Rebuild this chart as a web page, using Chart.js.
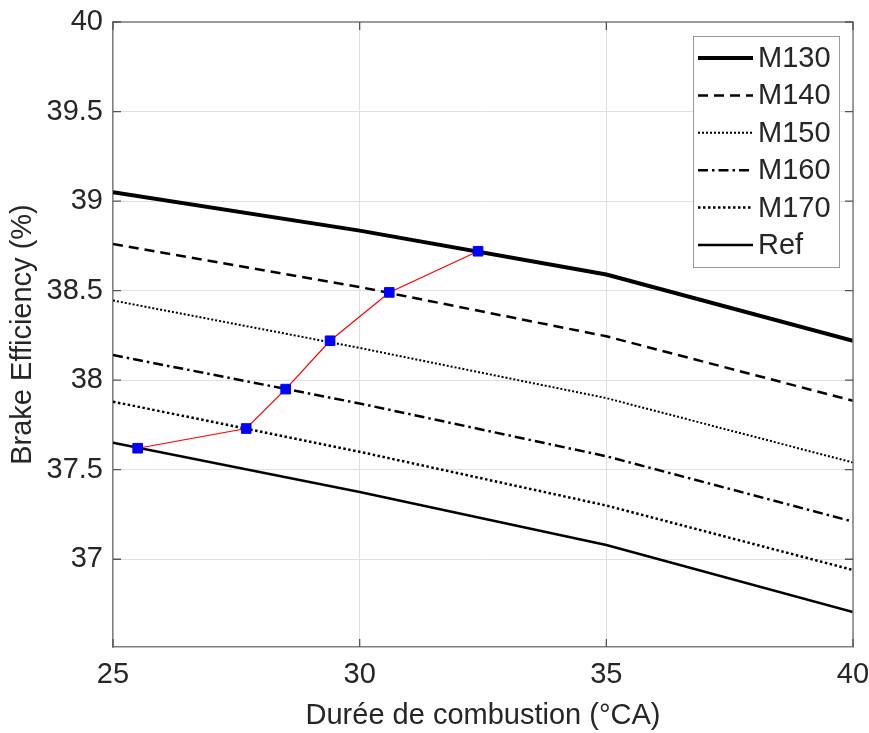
<!DOCTYPE html>
<html>
<head>
<meta charset="utf-8">
<script src="https://cdn.jsdelivr.net/npm/chart.js@4.4.1/dist/chart.umd.min.js"></script>
<style>
html, body { margin: 0; padding: 0; background: #fff; }
#wrap { width: 869px; height: 733px; }
</style>
</head>
<body>
<div id="wrap"><canvas id="c" width="869" height="733"></canvas></div>
<script>
// durée de combustion (°CA) aux points de calcul
const durees = [25, 30, 35, 40];
// rendement effectif (%) pour chaque cas
const m130 = [39.05, 38.835, 38.59, 38.22];
const m140 = [38.76, 38.52, 38.245, 37.885];
const m150 = [38.445, 38.18, 37.90, 37.54];
const m160 = [38.14, 37.87, 37.575, 37.21];
const m170 = [37.88, 37.60, 37.30, 36.94];
const ref = [37.65, 37.375, 37.08, 36.705];
const noms = ['M130', 'M140', 'M150', 'M160', 'M170', 'Ref'];

// points d'iso-rendement (ligne rouge)
const optX = [25.5, 27.7, 28.5, 29.4, 30.6, 32.4];
const optY = [37.62, 37.73, 37.95, 38.22, 38.49, 38.72];

const FONT = '"Liberation Sans", Arial, sans-serif';
const TXT = '#262626';

const styles = [
    { w: 4, dash: [] },
    { w: 2.5, dash: [10, 6] },
    { w: 2, dash: [2, 2] },
    { w: 2.5, dash: [10, 4, 2.5, 4] },
    { w: 2.5, dash: [2.5, 2.5] },
    { w: 2.5, dash: [] },
];

const pts = (xs, ys) => xs.map((x, i) => ({ x, y: ys[i] }));

const datasets = [m130, m140, m150, m160, m170, ref].map((vals, i) => ({
    label: noms[i], data: pts(durees, vals), inLegend: true,
    borderColor: '#000', borderWidth: styles[i].w, borderDash: styles[i].dash,
    pointRadius: 0, tension: 0, fill: false, order: 1,
}));
datasets.push({
    label: 'opt', data: pts(optX, optY), inLegend: false,
    borderColor: '#ff0000', borderWidth: 1.2, tension: 0, fill: false, order: 0,
    pointStyle: 'rect', pointRadius: 6.8, pointBackgroundColor: '#0000ff', pointBorderColor: '#0000ff', pointBorderWidth: 1,
});

// boîte + graduations intérieures façon MATLAB
const boxTicks = {
    id: 'boxTicks',
    afterDatasetsDraw(chart) {
        const { ctx, chartArea: a, scales: { x, y } } = chart;
        ctx.save();
        ctx.strokeStyle = '#808080'; ctx.lineWidth = 1.5;
        ctx.beginPath();
        ctx.moveTo(a.left, a.top); ctx.lineTo(a.right, a.top); ctx.lineTo(a.right, a.bottom);
        ctx.stroke();
        ctx.strokeStyle = '#555'; ctx.lineWidth = 1.3;
        ctx.beginPath();
        x.ticks.forEach(t => {
            const px = x.getPixelForValue(t.value);
            ctx.moveTo(px, a.bottom); ctx.lineTo(px, a.bottom - 8);
            ctx.moveTo(px, a.top); ctx.lineTo(px, a.top + 8);
        });
        y.ticks.forEach(t => {
            const py = y.getPixelForValue(t.value);
            ctx.moveTo(a.left, py); ctx.lineTo(a.left + 8, py);
            ctx.moveTo(a.right, py); ctx.lineTo(a.right - 8, py);
        });
        ctx.stroke();
        ctx.restore();
    }
};

// légende encadrée en haut à droite
const boxLegend = {
    id: 'boxLegend',
    afterDraw(chart) {
        const { ctx, chartArea: a } = chart;
        const items = chart.data.datasets.filter(d => d.inLegend);
        const rowH = 37.4, w = 146, h = rowH * (items.length - 1) + 44;
        const x0 = a.right - 14 - w, y0 = a.top + 14;
        ctx.save();
        ctx.fillStyle = '#fff'; ctx.fillRect(x0, y0, w, h);
        ctx.strokeStyle = '#999'; ctx.lineWidth = 1; ctx.strokeRect(x0 + 0.5, y0 + 0.5, w, h);
        ctx.font = `29px ${FONT}`; ctx.textBaseline = 'middle'; ctx.fillStyle = TXT;
        items.forEach((d, i) => {
            const yy = y0 + 22 + i * rowH;
            ctx.beginPath();
            ctx.setLineDash(d.borderDash || []);
            ctx.lineWidth = d.borderWidth; ctx.strokeStyle = d.borderColor;
            ctx.moveTo(x0 + 5, yy); ctx.lineTo(x0 + 60, yy); ctx.stroke();
            ctx.setLineDash([]);
            ctx.fillText(d.label, x0 + 65, yy + 1);
        });
        ctx.restore();
    }
};

new Chart(document.getElementById('c').getContext('2d'), {
    type: 'line',
    data: { datasets },
    options: {
        responsive: false, animation: false,
        layout: { padding: { top: 22, right: 16, left: 0, bottom: 0 } },
        plugins: { legend: { display: false }, tooltip: { enabled: false } },
        scales: {
            x: {
                type: 'linear', min: 25, max: 40,
                afterFit: s => { s.height = 86; s.paddingLeft = 0; s.paddingRight = 0; },
                ticks: { stepSize: 5, padding: 11, color: TXT, font: { family: FONT, size: 29 } },
                grid: { color: '#e0e0e0', drawTicks: false },
                border: { display: true, color: '#808080', width: 1.5 },
                title: { display: true, text: 'Durée de combustion (°CA)', color: TXT, font: { family: FONT, size: 29 }, padding: { top: 0, bottom: 0 } },
            },
            y: {
                type: 'linear', min: 36.51, max: 40,
                afterFit: s => { s.width = 113; s.paddingTop = 0; s.paddingBottom = 0; },
                ticks: { stepSize: 0.5, includeBounds: false, padding: 10, color: TXT, font: { family: FONT, size: 29 },
                    callback: v => String(Math.round(v * 10) / 10) },
                grid: { color: '#e0e0e0', drawTicks: false },
                border: { display: true, color: '#808080', width: 1.5 },
                title: { display: true, text: 'Brake Efficiency (%)', color: TXT, font: { family: FONT, size: 29 }, padding: { top: 6, bottom: 0 } },
            },
        },
    },
    plugins: [boxTicks, boxLegend],
});
</script>
</body>
</html>
